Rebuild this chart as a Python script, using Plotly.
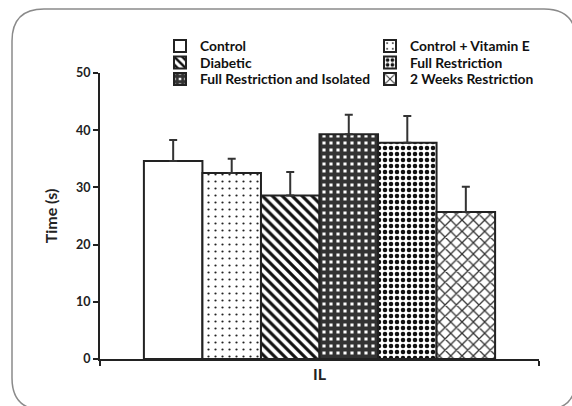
import plotly.graph_objects as go

groups = ["Control", "Control + Vitamin E", "Diabetic",
          "Full Restriction and Isolated", "Full Restriction", "2 Weeks Restriction"]
means = [34.6, 32.5, 28.6, 39.3, 37.8, 25.7]
errs = [3.7, 2.5, 4.1, 3.4, 4.7, 4.4]
category = ["IL"]
y_ticks = [0, 10, 20, 30, 40, 50]

# legend layout: (column, row) of each group in the two-column key
legend_cells = [(0, 0), (1, 0), (0, 1), (0, 2), (1, 1), (1, 2)]

patterns = [
    dict(shape=""),
    dict(shape=".", size=7, solidity=0.08, fgcolor="#222", bgcolor="white", fillmode="replace"),
    dict(shape="\\", size=7, solidity=0.45, fgcolor="#111", bgcolor="white", fillmode="replace"),
    dict(shape="+", size=7, solidity=0.8, fgcolor="#333", bgcolor="white", fillmode="replace"),
    dict(shape=".", size=6, solidity=0.45, fgcolor="#111", bgcolor="white", fillmode="replace"),
    dict(shape="x", size=8, solidity=0.3, fgcolor="#333", bgcolor="white", fillmode="replace"),
]

FONT = "Lato"
W, H = 572, 406
L, R, T, B = 100, 33, 73, 47
PW, PH = W - L - R, H - T - B


def px(x):
    return (x - L) / PW


def py(y):
    return (H - B - y) / PH


fig = go.Figure()
legend_layouts = {}
col_text_x = [200, 410]
row_y = [46, 62.5, 79]
for i, g in enumerate(groups):
    lname = "legend" if i == 0 else f"legend{i + 1}"
    fig.add_trace(go.Bar(
        x=category, y=[means[i]], name=g, legend=lname,
        marker=dict(color="white", line=dict(color="#222", width=2), pattern=patterns[i]),
        error_y=dict(type="data", array=[errs[i]], arrayminus=[0], symmetric=False,
                     color="#333", thickness=2, width=4),
    ))
    c, r = legend_cells[i]
    legend_layouts[lname] = dict(
        x=px(col_text_x[c] - 40), y=py(row_y[r]), xanchor="left", yanchor="middle",
        font=dict(family=FONT, size=13.8, color="#111", weight="bold"),
        bgcolor="rgba(0,0,0,0)", borderwidth=0, itemwidth=30,
    )

# rounded frame around the figure
x0, x1, y0, y1, rr = 12, 576, 9, 410, 32
path = (f"M {px(x0 + rr)},{py(y0)} L {px(x1 - rr)},{py(y0)} "
        f"Q {px(x1)},{py(y0)} {px(x1)},{py(y0 + rr)} "
        f"L {px(x1)},{py(y1 - rr)} Q {px(x1)},{py(y1)} {px(x1 - rr)},{py(y1)} "
        f"L {px(x0 + rr)},{py(y1)} Q {px(x0)},{py(y1)} {px(x0)},{py(y1 - rr)} "
        f"L {px(x0)},{py(y0 + rr)} Q {px(x0)},{py(y0)} {px(x0 + rr)},{py(y0)} Z")

fig.update_layout(
    width=W, height=H,
    margin=dict(l=L, r=R, t=T, b=B, autoexpand=False),
    paper_bgcolor="white", plot_bgcolor="white",
    barmode="group", bargap=0.2, bargroupgap=0,
    font=dict(family=FONT, color="#222"),
    showlegend=True,
    shapes=[dict(type="path", xref="paper", yref="paper", path=path,
                 line=dict(color="#8a8a8a", width=1.5), layer="below")],
    xaxis=dict(type="category", range=[-0.5, 0.5], showline=True, linecolor="#222", linewidth=2,
               ticks="outside", tickson="boundaries", ticklen=5, tickwidth=2, tickcolor="#222",
               tickfont=dict(family=FONT, size=16, color="#222", weight="bold"),
               showgrid=False, zeroline=False),
    yaxis=dict(range=[0, 50], tickvals=y_ticks, showline=True, linecolor="#222", linewidth=2,
               ticks="outside", ticklen=5, tickwidth=2, tickcolor="#222",
               tickfont=dict(family=FONT, size=12.5, color="#222", weight="bold"),
               title=dict(text="Time (s)", font=dict(family=FONT, size=16, color="#222", weight="bold"),
                          standoff=14),
               showgrid=False, zeroline=False),
    **legend_layouts,
)

fig.write_html("out.html", config={"displayModeBar": False},
               post_script="document.body.style.margin='0';")
